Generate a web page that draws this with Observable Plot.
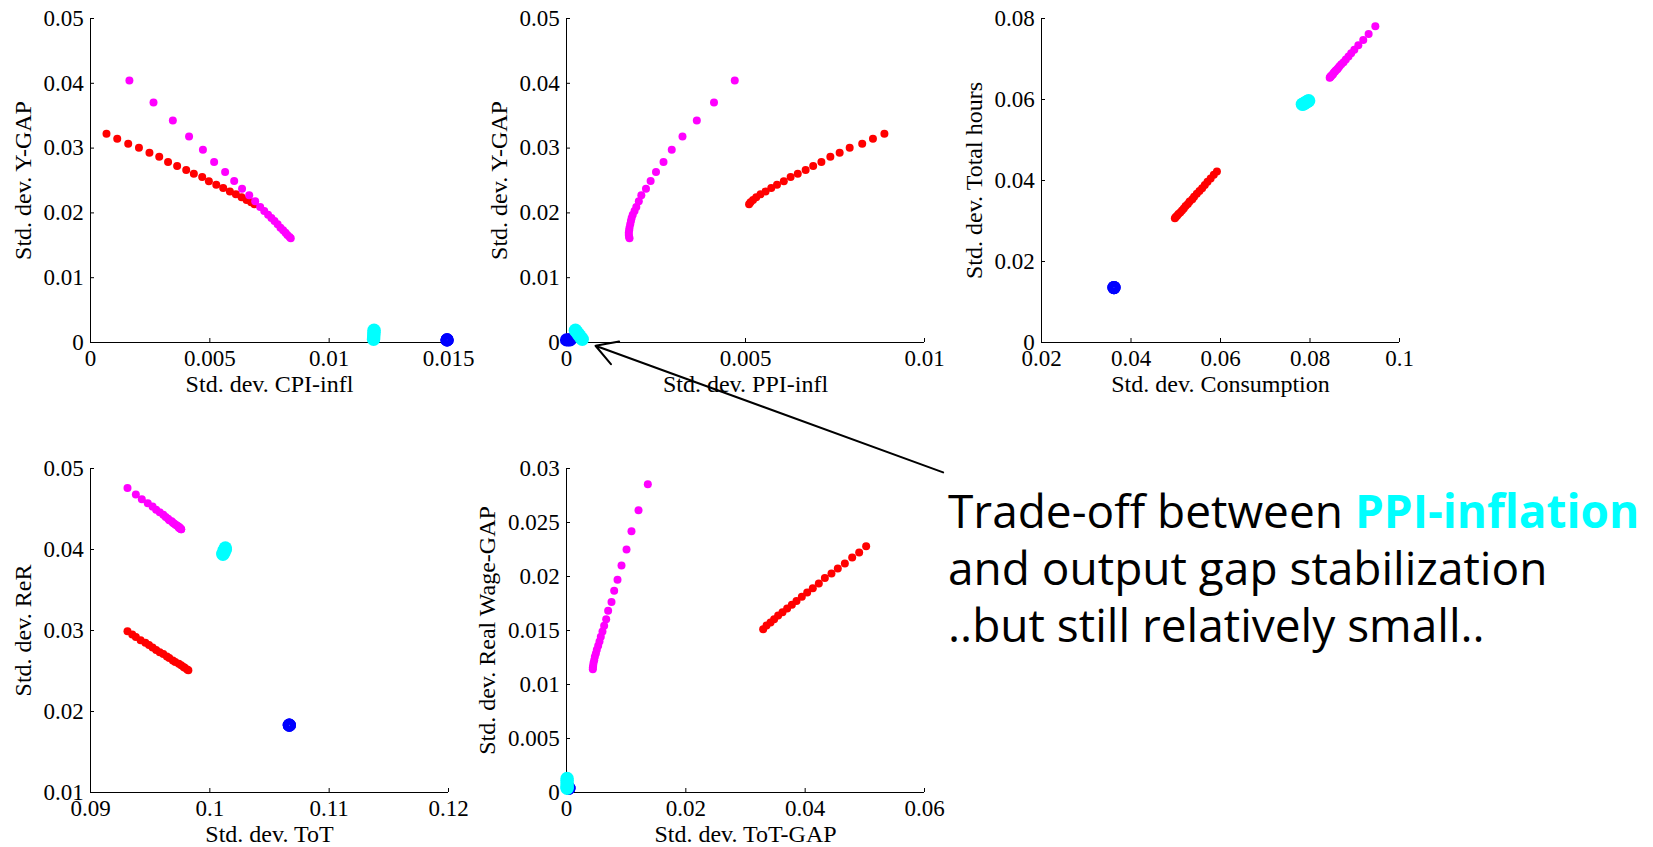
<!DOCTYPE html>
<html>
<head>
<meta charset="utf-8">
<script src="https://cdn.jsdelivr.net/npm/d3@7"></script>
<script src="https://cdn.jsdelivr.net/npm/@observablehq/plot@0.6"></script>
<style>
html, body { margin: 0; padding: 0; background: #fff; }
#root { position: relative; width: 1653px; height: 847px; overflow: hidden; }
#root > div.panel { position: absolute; }
#note { position: absolute; left: 0; top: 0; }
</style>
</head>
<body>
<div id="root">
<svg id="note" width="1653" height="847">
  <g font-family="'Open Sans', 'Noto Sans', sans-serif" font-size="46" fill="#000">
    <text x="948" y="528.3">Trade-off between <tspan font-weight="700" fill="#00ffff">PPI-inflation</tspan></text>
    <text x="948" y="585">and output gap stabilization</text>
    <text x="948" y="641.7">..but still relatively small..</text>
  </g>
</svg>
</div>
<script>
// ---------- data: red series ----------
const redCPI    = [0.00067, 0.00112, 0.00158, 0.00203, 0.00247, 0.00288, 0.00325, 0.00363, 0.00401, 0.00433, 0.00468, 0.00496, 0.00527, 0.00556, 0.00584, 0.00609, 0.00633, 0.00654, 0.00673, 0.00687];
const redYGAP   = [0.03221, 0.03144, 0.03067, 0.03006, 0.02929, 0.02867, 0.02785, 0.02723, 0.02661, 0.02605, 0.02553, 0.02487, 0.02435, 0.02384, 0.02332, 0.02286, 0.02240, 0.02199, 0.02163, 0.02132];
const redPPI    = [0.00888, 0.00856, 0.00826, 0.00791, 0.00763, 0.00737, 0.00712, 0.00689, 0.00668, 0.00646, 0.00626, 0.00607, 0.00588, 0.00572, 0.00556, 0.00542, 0.00530, 0.00521, 0.00514, 0.00510];
const redCons   = [0.0592, 0.0585, 0.0578, 0.0571, 0.0565, 0.0559, 0.0553, 0.0547, 0.0541, 0.0537, 0.0531, 0.0527, 0.0522, 0.0518, 0.0514, 0.0510, 0.0506, 0.0503, 0.0500, 0.0498];
const redHours  = [0.0422, 0.0414, 0.0405, 0.0397, 0.0389, 0.0381, 0.0374, 0.0367, 0.0360, 0.0354, 0.0348, 0.0342, 0.0337, 0.0331, 0.0326, 0.0321, 0.0317, 0.0313, 0.0310, 0.0307];
const redToT    = [0.0931, 0.0935, 0.0938, 0.0942, 0.0946, 0.0949, 0.0952, 0.0955, 0.0958, 0.0961, 0.0964, 0.0966, 0.0969, 0.0971, 0.0974, 0.0976, 0.0978, 0.0979, 0.0981, 0.0982];
const redReR    = [0.0299, 0.0295, 0.0292, 0.0288, 0.0285, 0.0282, 0.0279, 0.0276, 0.0273, 0.0271, 0.0268, 0.0266, 0.0263, 0.0261, 0.0259, 0.0257, 0.0255, 0.0254, 0.0252, 0.0251];
const redToTGap = [0.05022, 0.04905, 0.04788, 0.04665, 0.04547, 0.04441, 0.04330, 0.04229, 0.04128, 0.04034, 0.03944, 0.03855, 0.03777, 0.03698, 0.03620, 0.03547, 0.03480, 0.03419, 0.03352, 0.03296];
const redRWGap  = [0.02281, 0.02222, 0.02176, 0.02120, 0.02074, 0.02028, 0.01985, 0.01935, 0.01892, 0.01852, 0.01812, 0.01772, 0.01738, 0.01704, 0.01670, 0.01639, 0.01605, 0.01574, 0.01546, 0.01512];

// ---------- data: magenta series ----------
const magCPI    = [0.00163, 0.00264, 0.00345, 0.00413, 0.00471, 0.00518, 0.00564, 0.00602, 0.00635, 0.00665, 0.00690, 0.00711, 0.00728, 0.00744, 0.00758, 0.00771, 0.00784, 0.00796, 0.00807, 0.00817, 0.00825, 0.00834, 0.00839];
const magYGAP   = [0.04043, 0.03704, 0.03427, 0.03180, 0.02975, 0.02785, 0.02631, 0.02492, 0.02374, 0.02271, 0.02178, 0.02091, 0.02029, 0.01973, 0.01921, 0.01875, 0.01824, 0.01772, 0.01731, 0.01695, 0.01659, 0.01629, 0.01608];
const magPPI    = [0.00470, 0.00412, 0.00364, 0.00324, 0.00294, 0.00271, 0.00250, 0.00235, 0.00222, 0.00209, 0.00202, 0.00195, 0.00190, 0.00185, 0.00182, 0.00180, 0.00178, 0.00176, 0.00175, 0.00174, 0.00174, 0.00175, 0.00176];
const magCons   = [0.0946, 0.0931, 0.0919, 0.0908, 0.0899, 0.0892, 0.0886, 0.0880, 0.0875, 0.0870, 0.0866, 0.0863, 0.0861, 0.0858, 0.0856, 0.0854, 0.0852, 0.0851, 0.0849, 0.0847, 0.0846, 0.0845, 0.0844];
const magHours  = [0.0781, 0.0762, 0.0747, 0.0734, 0.0723, 0.0714, 0.0706, 0.0699, 0.0692, 0.0687, 0.0682, 0.0678, 0.0675, 0.0672, 0.0669, 0.0667, 0.0664, 0.0662, 0.0660, 0.0658, 0.0657, 0.0655, 0.0654];
const magToT    = [0.0931, 0.0938, 0.0943, 0.0948, 0.0952, 0.0955, 0.0958, 0.0961, 0.0963, 0.0965, 0.0966, 0.0968, 0.0969, 0.0970, 0.0971, 0.0972, 0.0973, 0.0974, 0.0974, 0.0975, 0.0975, 0.0976, 0.0976];
const magReR    = [0.0476, 0.0468, 0.0462, 0.0457, 0.0453, 0.0449, 0.0446, 0.0443, 0.0440, 0.0438, 0.0436, 0.0435, 0.0433, 0.0432, 0.0431, 0.0430, 0.0429, 0.0428, 0.0427, 0.0427, 0.0426, 0.0425, 0.0425];
const magToTGap = [0.01363, 0.01207, 0.01089, 0.01006, 0.00922, 0.00855, 0.00799, 0.00754, 0.00698, 0.00665, 0.00631, 0.00603, 0.00575, 0.00553, 0.00531, 0.00508, 0.00492, 0.00475, 0.00464, 0.00453, 0.00447, 0.00441, 0.00441];
const magRWGap  = [0.02855, 0.02614, 0.02420, 0.02250, 0.02102, 0.01969, 0.01867, 0.01765, 0.01682, 0.01605, 0.01543, 0.01491, 0.01441, 0.01398, 0.01358, 0.01321, 0.01287, 0.01256, 0.01225, 0.01198, 0.01173, 0.01154, 0.01142];

// ---------- data: cyan series ----------
const cyanCPI    = [0.01188, 0.01188, 0.01187, 0.01187, 0.01186, 0.01186];
const cyanYGAP   = [0.0019, 0.0016, 0.0013, 0.0010, 0.0007, 0.0005];
const cyanPPI    = [0.00025, 0.00029, 0.00033, 0.00037, 0.00041, 0.00044];
const cyanCons   = [0.0797, 0.0794, 0.0791, 0.0788, 0.0785, 0.0783];
const cyanHours  = [0.0597, 0.0595, 0.0593, 0.0591, 0.0589, 0.0588];
const cyanToT    = [0.1013, 0.1013, 0.1012, 0.1012, 0.1011, 0.1011];
const cyanReR    = [0.0402, 0.0400, 0.0399, 0.0397, 0.0395, 0.0394];
const cyanToTGap = [0.0001, 0.0001, 0.0001, 0.0001, 0.0001, 0.0001];
const cyanRWGap  = [0.0013, 0.0011, 0.0009, 0.0007, 0.0005, 0.0004];

// ---------- data: blue series ----------
const blueCPI    = [0.01494, 0.01494, 0.01494];
const blueYGAP   = [0.0004, 0.0004, 0.0004];
const bluePPI    = [0.0000, 0.00005, 0.0001];
const blueCons   = [0.0362, 0.0362, 0.0362];
const blueHours  = [0.01357, 0.01357, 0.01357];
const blueToT    = [0.10666, 0.10666, 0.10666];
const blueReR    = [0.01831, 0.01831, 0.01831];
const blueToTGap = [0.0004, 0.0004, 0.0004];
const blueRWGap  = [0.0004, 0.0004, 0.0004];

// ---------- ticks ----------
const p1XTicks = [0, 0.005, 0.01, 0.015];
const p1YTicks = [0, 0.01, 0.02, 0.03, 0.04, 0.05];
const p2XTicks = [0, 0.005, 0.01];
const p2YTicks = [0, 0.01, 0.02, 0.03, 0.04, 0.05];
const p3XTicks = [0.02, 0.04, 0.06, 0.08, 0.1];
const p3YTicks = [0, 0.02, 0.04, 0.06, 0.08];
const p4XTicks = [0.09, 0.1, 0.11, 0.12];
const p4YTicks = [0.01, 0.02, 0.03, 0.04, 0.05];
const p5XTicks = [0, 0.02, 0.04, 0.06];
const p5YTicks = [0, 0.005, 0.01, 0.015, 0.02, 0.025, 0.03];

// ---------- annotation arrow (in panel-2 data units) ----------
const arrowTail = [0.01052, -0.02004];
const arrowHead = [0.00081, -0.0005];

// ---------- assembly ----------
const series = [
  {color: "#ff0000", kind: "dot", v: {cpi: redCPI, ygap: redYGAP, ppi: redPPI, cons: redCons, hours: redHours, tot: redToT, rer: redReR, totgap: redToTGap, rwgap: redRWGap}},
  {color: "#ff00ff", kind: "dot", v: {cpi: magCPI, ygap: magYGAP, ppi: magPPI, cons: magCons, hours: magHours, tot: magToT, rer: magReR, totgap: magToTGap, rwgap: magRWGap}},
  {color: "#0000ff", kind: "ring", v: {cpi: blueCPI, ygap: blueYGAP, ppi: bluePPI, cons: blueCons, hours: blueHours, tot: blueToT, rer: blueReR, totgap: blueToTGap, rwgap: blueRWGap}},
  {color: "#00ffff", kind: "blob", v: {cpi: cyanCPI, ygap: cyanYGAP, ppi: cyanPPI, cons: cyanCons, hours: cyanHours, tot: cyanToT, rer: cyanReR, totgap: cyanToTGap, rwgap: cyanRWGap}}
];

const panels = [
  {left: 90,  top: 17.5,  xk: "cpi",    yk: "ygap",  xd: [0, 0.015],   yd: [0, 0.05], xt: p1XTicks, yt: p1YTicks, xl: "Std. dev. CPI-infl",   yl: "Std. dev. Y-GAP",        yo: 67},
  {left: 566, top: 17.5,  xk: "ppi",    yk: "ygap",  xd: [0, 0.01],    yd: [0, 0.05], xt: p2XTicks, yt: p2YTicks, xl: "Std. dev. PPI-infl",   yl: "Std. dev. Y-GAP",        yo: 67, arrow: true},
  {left: 1041, top: 17.5, xk: "cons",   yk: "hours", xd: [0.02, 0.1],  yd: [0, 0.08], xt: p3XTicks, yt: p3YTicks, xl: "Std. dev. Consumption", yl: "Std. dev. Total hours",  yo: 67},
  {left: 90,  top: 467.7, xk: "tot",    yk: "rer",   xd: [0.09, 0.12], yd: [0.01, 0.05], xt: p4XTicks, yt: p4YTicks, xl: "Std. dev. ToT",     yl: "Std. dev. ReR",          yo: 67},
  {left: 566, top: 467.7, xk: "totgap", yk: "rwgap", xd: [0, 0.06],    yd: [0, 0.03], xt: p5XTicks, yt: p5YTicks, xl: "Std. dev. ToT-GAP",    yl: "Std. dev. Real Wage-GAP", yo: 79}
];

const ML = 100, MT = 20, MR = 20, MB = 60, FW = 358, FH = 324;
const root = document.getElementById("root");

for (const p of panels) {
  const marks = [];
  for (const s of series) {
    const xs = s.v[p.xk], ys = s.v[p.yk];
    const rows = xs.map((x, i) => ({x, y: ys[i]}));
    if (s.kind === "dot") {
      marks.push(Plot.dot(rows, {x: "x", y: "y", r: 4, fill: s.color, stroke: null}));
    } else if (s.kind === "ring") {
      marks.push(Plot.dot(rows, {x: "x", y: "y", r: 3.6, fill: "none", stroke: s.color, strokeWidth: 6}));
    } else {
      marks.push(Plot.dot(rows, {x: "x", y: "y", r: 6.7, fill: s.color, stroke: null}));
    }
  }
  const plot = Plot.plot({
    width: ML + FW + MR,
    height: MT + FH + MB,
    marginLeft: ML, marginTop: MT, marginRight: MR, marginBottom: MB,
    x: {domain: p.xd},
    y: {domain: p.yd},
    style: {fontFamily: "'Liberation Serif', 'Times New Roman', serif", fontSize: "23px", overflow: "visible", background: "transparent", color: "#000"},
    marks: [
      Plot.ruleX([p.xd[0]], {stroke: "#000", strokeWidth: 1}),
      Plot.ruleY([p.yd[0]], {stroke: "#000", strokeWidth: 1}),
      Plot.axisX(p.xt, {tickSize: -4, tickPadding: 11, tickFormat: d => String(d), label: null}),
      Plot.axisY(p.yt, {tickSize: -4, tickPadding: 10.7, tickFormat: d => String(d), label: null}),
      ...marks,
      Plot.text([p.xl], {frameAnchor: "bottom", textAnchor: "middle", dy: 42, lineAnchor: "middle", fontSize: 24}),
      Plot.text([p.yl], {frameAnchor: "left", textAnchor: "middle", rotate: -90, dx: -p.yo, lineAnchor: "middle", fontSize: 24}),
      ...(p.arrow ? [Plot.arrow([{x1: arrowTail[0], y1: arrowTail[1], x2: arrowHead[0], y2: arrowHead[1]}],
          {x1: "x1", y1: "y1", x2: "x2", y2: "y2", stroke: "#000", strokeWidth: 2, headLength: 18, headAngle: 60})] : [])
    ]
  });
  const div = document.createElement("div");
  div.className = "panel";
  div.style.left = (p.left - ML) + "px";
  div.style.top = (p.top - MT) + "px";
  div.appendChild(plot);
  root.insertBefore(div, document.getElementById("note"));
}
</script>
</body>
</html>
